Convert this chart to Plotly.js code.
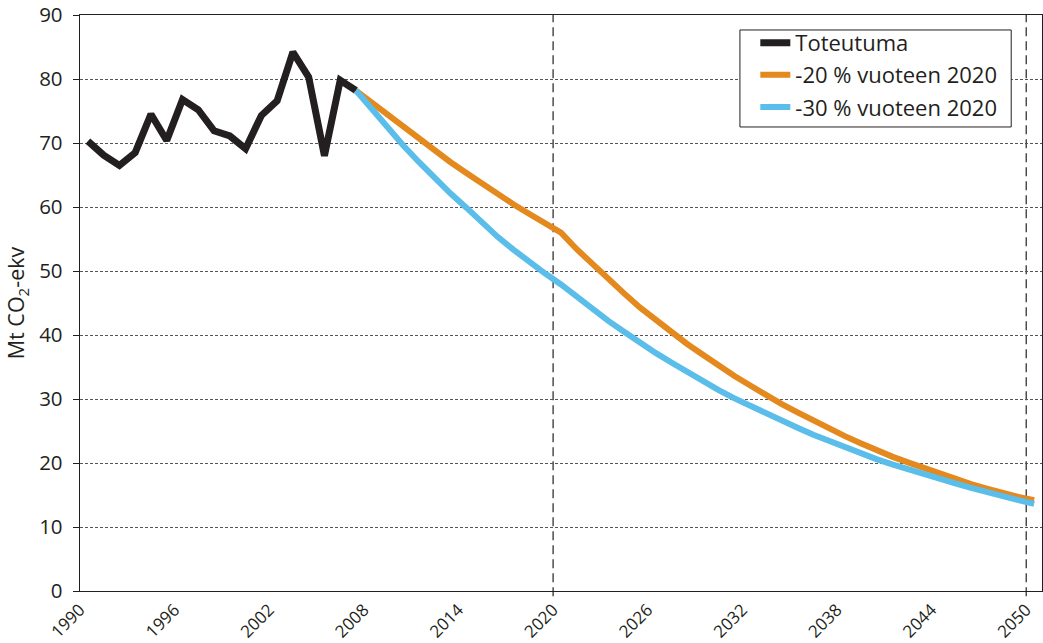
<!DOCTYPE html>
<html>
<head>
<meta charset="utf-8">
<script src="https://cdn.plot.ly/plotly-3.0.1.min.js"></script>
<style>html,body{margin:0;padding:0;background:#fff;}#chart{width:1043px;height:643px;}</style>
</head>
<body>
<div id="chart"></div>
<script>
// Historical emissions (Toteutuma), Mt CO2-ekv
var histYears = [1990,1991,1992,1993,1994,1995,1996,1997,1998,1999,2000,2001,2002,2003,2004,2005,2006,2007];
var histValues = [70.3,68.1,66.5,68.5,74.5,70.4,76.8,75.2,71.9,71.1,69.1,74.3,76.6,84.2,80.3,68.0,79.8,78.2];

// Projections 2007-2050
var projYears = [2007,2008,2009,2010,2011,2012,2013,2014,2015,2016,2017,2018,2019,2020,
  2021,2022,2023,2024,2025,2026,2027,2028,2029,2030,2031,2032,2033,2034,2035,
  2036,2037,2038,2039,2040,2041,2042,2043,2044,2045,2046,2047,2048,2049,2050];
var minus20 = [78.2,76.3,74.4,72.5,70.6,68.8,67.0,65.3,63.6,62.0,60.4,58.9,57.4,56.0,
  53.4,51.0,48.7,46.5,44.3,42.3,40.4,38.6,36.9,35.2,33.6,32.1,30.6,29.2,27.9,
  26.6,25.4,24.2,23.1,22.0,21.0,20.1,19.2,18.3,17.5,16.7,16.0,15.3,14.7,14.2];
var minus30 = [78.2,75.3,72.5,69.6,67.0,64.5,62.1,59.9,57.5,55.3,53.3,51.4,49.6,47.9,
  45.9,44.0,42.2,40.5,38.8,37.2,35.7,34.2,32.8,31.4,30.1,28.9,27.7,26.6,25.5,
  24.4,23.4,22.4,21.5,20.6,19.8,19.0,18.2,17.5,16.8,16.1,15.4,14.8,14.2,13.6];

var seriesNames = ['Toteutuma', '-20 % vuoteen 2020', '-30 % vuoteen 2020'];
var tickLabels = ['1990','1996','2002','2008','2014','2020','2026','2032','2038','2044','2050'];
var yTicks = [0,10,20,30,40,50,60,70,80,90];
var markerYears = [2020, 2050];

// category boundaries: labels sit at the left boundary of each year
var tickPos = tickLabels.map(function(t){ return Number(t) - 0.5; });

var font = 'Open Sans, Noto Sans, sans-serif';
var txt = '#231f20';

var traces = [
  {x: histYears, y: histValues, name: seriesNames[0], mode: 'lines', legendgroup: 'a',
   line: {color: '#231f20', width: 7}},
  {x: projYears, y: minus20, name: seriesNames[1], mode: 'lines', legendgroup: 'b',
   line: {color: '#e3891e', width: 6}},
  {x: projYears, y: minus30, name: seriesNames[2], mode: 'lines', legendgroup: 'c',
   line: {color: '#5bbde9', width: 6}}
];

var shapes = markerYears.map(function(yr){
  return {type: 'line', xref: 'x', yref: 'paper', x0: yr - 0.5, x1: yr - 0.5, y0: -0.009, y1: 1,
          line: {color: '#333', width: 1.3, dash: '9px,5px'}, layer: 'below'};
});
// legend frame
shapes.push({type: 'rect', xref: 'paper', yref: 'paper', x0: 0.686, x1: 0.968, y0: 0.8056, y1: 0.974,
  fillcolor: '#fff', line: {color: '#231f20', width: 1}, layer: 'above'});

var layout = {
  width: 1043, height: 643,
  margin: {l: 80, r: 1, t: 15, b: 52},
  paper_bgcolor: '#fff', plot_bgcolor: '#fff',
  showlegend: true,
  font: {family: font, color: txt},
  xaxis: {
    range: [1989.5, 2050.5],
    tickmode: 'array', tickvals: tickPos, ticktext: tickLabels,
    tickangle: -45, tickfont: {size: 17, color: txt, family: font},
    ticklabelstandoff: 1,
    ticks: '', showgrid: false, zeroline: false,
    showline: true, linecolor: '#231f20', linewidth: 1.3, mirror: true
  },
  yaxis: {
    range: [0, 90], tickmode: 'array', tickvals: yTicks,
    tickfont: {size: 20.5, color: txt, family: font},
    ticks: 'outside', ticklen: 6, tickcolor: '#231f20', tickwidth: 1,
    ticklabelstandoff: 6,
    showgrid: true, gridcolor: '#555', gridwidth: 1, griddash: '3px,2px',
    zeroline: false,
    showline: true, linecolor: '#231f20', linewidth: 1.3, mirror: true,
    title: {text: 'Mt CO<sub>2</sub>-ekv', font: {size: 21.5, color: txt, family: font}, standoff: 8}
  },
  legend: {
    x: 0.702, y: 0.988, xanchor: 'left', yanchor: 'top',
    bgcolor: 'rgba(0,0,0,0)', borderwidth: 0,
    font: {size: 22, color: txt, family: font},
    traceorder: 'grouped', tracegroupgap: 0.5
  },
  shapes: shapes
};

Plotly.newPlot('chart', traces, layout, {displayModeBar: false, staticPlot: true});
</script>
</body>
</html>
